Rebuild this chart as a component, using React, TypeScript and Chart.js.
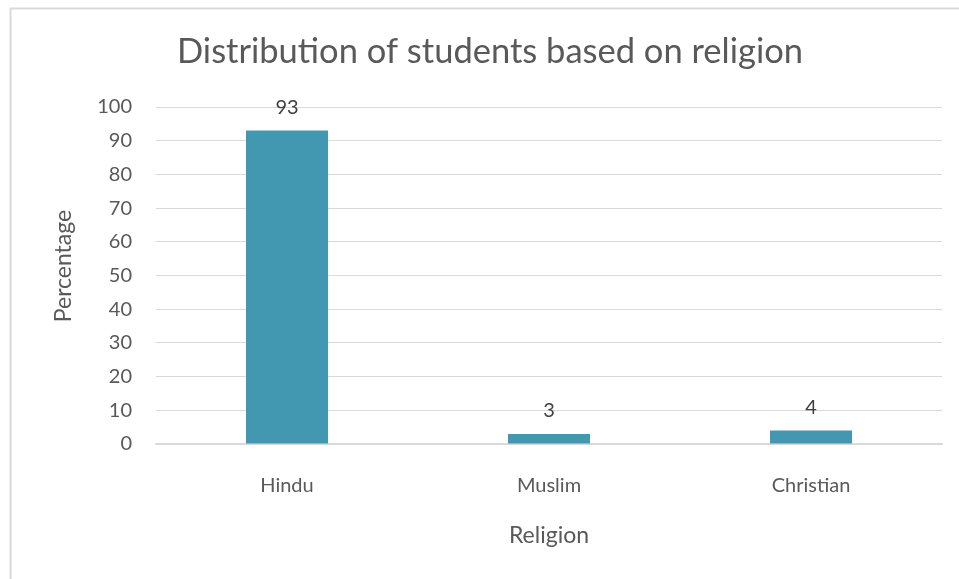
import React, { useEffect, useRef } from "react";
import { Chart, registerables } from "chart.js";

Chart.register(...registerables);

const categories = ["Hindu", "Muslim", "Christian"];
const percentages = [93, 3, 4];
const yTickMin = 0;
const yTickMax = 100;
const yTickStep = 10;
const chartTitle = "Distribution of students based on religion";
const xAxisTitle = "Religion";
const yAxisTitle = "Percentage";

const FONT = "Lato, 'Open Sans', sans-serif";
const BAR_COLOR = "#4298B0";
const TEXT_GRAY = "#595959";
const LABEL_DARK = "#404040";
const GRID = "#D9D9D9";

const decorPlugin = {
  id: "decor",
  beforeDraw(chart: any) {
    const ctx = chart.ctx;
    ctx.save();
    ctx.strokeStyle = GRID;
    ctx.lineWidth = 2;
    ctx.strokeRect(10.5, 8.5, chart.width + 40, chart.height + 40);
    ctx.restore();
  },
  afterDraw(chart: any) {
    const ctx = chart.ctx;
    ctx.save();
    // Title
    ctx.fillStyle = TEXT_GRAY;
    ctx.font = `34.5px ${FONT}`;
    ctx.textAlign = "center";
    ctx.textBaseline = "alphabetic";
    ctx.fillText(chartTitle, 490, 63);
    // Y axis title
    ctx.font = `23px ${FONT}`;
    ctx.translate(64, 266);
    ctx.rotate(-Math.PI / 2);
    ctx.textBaseline = "middle";
    ctx.fillText(yAxisTitle, 0, 0);
    ctx.restore();

    // Data labels
    ctx.save();
    ctx.fillStyle = LABEL_DARK;
    ctx.font = `20px ${FONT}`;
    ctx.textAlign = "center";
    ctx.textBaseline = "alphabetic";
    const meta = chart.getDatasetMeta(0);
    meta.data.forEach((bar: any, i: number) => {
      ctx.fillText(String(percentages[i]), bar.x, bar.y - 17);
    });
    ctx.restore();
  },
};

export default function App() {
  const canvasRef = useRef<HTMLCanvasElement | null>(null);

  useEffect(() => {
    document.body.style.margin = "0";
    const canvas = canvasRef.current!;
    const chart = new Chart(canvas, {
      type: "bar",
      data: {
        labels: categories,
        datasets: [
          {
            data: percentages,
            backgroundColor: BAR_COLOR,
            borderWidth: 0,
            categoryPercentage: 1,
            barPercentage: 0.313,
          },
        ],
      },
      options: {
        animation: false,
        responsive: false,
        maintainAspectRatio: false,
        devicePixelRatio: 1,
        layout: { padding: { top: 107, right: 17, left: 0, bottom: 0 } },
        plugins: {
          legend: { display: false },
          title: { display: false },
          tooltip: { enabled: false },
        },
        scales: {
          x: {
            grid: { display: false, drawTicks: false },
            border: { display: true, color: GRID, width: 1.5 },
            ticks: {
              color: TEXT_GRAY,
              font: { family: FONT, size: 20 },
              padding: 30,
            },
            title: {
              display: true,
              text: xAxisTitle,
              color: TEXT_GRAY,
              font: { family: FONT, size: 23 },
              padding: 30,
            },
            afterFit(scale: any) {
              scale.height = 135;
            },
          },
          y: {
            min: yTickMin,
            max: yTickMax,
            grid: { color: GRID, lineWidth: 1, drawTicks: false },
            border: { display: false },
            ticks: {
              stepSize: yTickStep,
              color: TEXT_GRAY,
              font: { family: FONT, size: 20 },
              padding: 24,
            },
            afterFit(scale: any) {
              scale.width = 156;
            },
          },
        },
      },
      plugins: [decorPlugin],
    });
    return () => chart.destroy();
  }, []);

  return (
    <div style={{ position: "absolute", left: 0, top: 0, width: 959, height: 579, background: "#fff" }}>
      <canvas ref={canvasRef} width={959} height={579} style={{ width: 959, height: 579 }} />
    </div>
  );
}
